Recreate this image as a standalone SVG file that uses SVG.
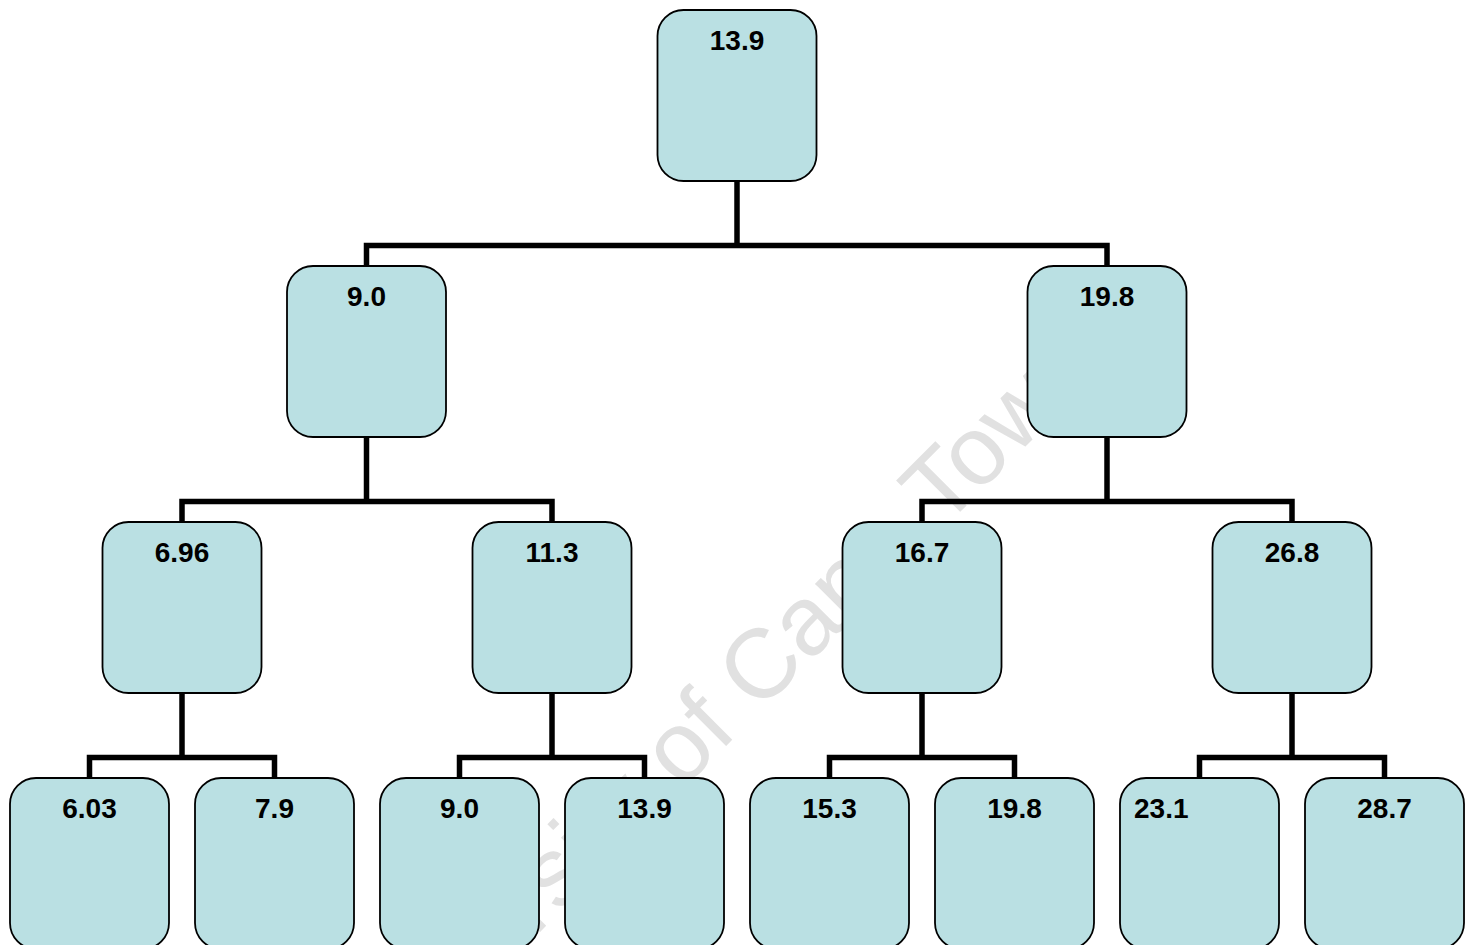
<svg xmlns="http://www.w3.org/2000/svg" width="1471" height="945" viewBox="0 0 1471 945">
  <style>
    .box { fill: #bae0e3; stroke: #000; stroke-width: 1.8; }
    .lbl { font-family: "Liberation Sans", Arial, sans-serif; font-weight: bold; font-size: 28px; fill: #000; text-anchor: middle; }
    .lbl.left { text-anchor: start; }
    .wire { fill: none; stroke: #000; stroke-width: 5.5; stroke-linejoin: miter; }
    .mark { font-family: "Liberation Sans", Arial, sans-serif; font-size: 98px; fill: #e1e1e1; }
  </style>
  <defs>
    <rect id="node" width="159" height="171" rx="26" ry="26"/>
  </defs>

  <rect width="1471" height="945" fill="#fff"/>

  <!-- background watermark -->
  <text class="mark" transform="translate(358,1114) rotate(-45)">University of Cape Town</text>

  <!-- connectors -->
  <g id="connectors" class="wire">
    <path d="M737,181 V245.5"/>
    <path d="M366.5,266 V245.5 H1107 V266"/>
    <path d="M366.5,437 V501.5"/>
    <path d="M182,522 V501.5 H552 V522"/>
    <path d="M1107,437 V501.5"/>
    <path d="M922,522 V501.5 H1292 V522"/>
    <path d="M182,693 V757.5"/>
    <path d="M89.5,778 V757.5 H274.5 V778"/>
    <path d="M552,693 V757.5"/>
    <path d="M459.5,778 V757.5 H644.5 V778"/>
    <path d="M922,693 V757.5"/>
    <path d="M829.5,778 V757.5 H1014.5 V778"/>
    <path d="M1292,693 V757.5"/>
    <path d="M1199.5,778 V757.5 H1384.5 V778"/>
  </g>

  <!-- level 1 -->
  <g id="n-root"><use href="#node" class="box" x="657.5" y="10"/><text class="lbl" x="737" y="50">13.9</text></g>

  <!-- level 2 -->
  <g id="n-l"><use href="#node" class="box" x="287" y="266"/><text class="lbl" x="366.5" y="306">9.0</text></g>
  <g id="n-r"><use href="#node" class="box" x="1027.5" y="266"/><text class="lbl" x="1107" y="306">19.8</text></g>

  <!-- level 3 -->
  <g id="n-ll"><use href="#node" class="box" x="102.5" y="522"/><text class="lbl" x="182" y="562">6.96</text></g>
  <g id="n-lr"><use href="#node" class="box" x="472.5" y="522"/><text class="lbl" x="552" y="562">11.3</text></g>
  <g id="n-rl"><use href="#node" class="box" x="842.5" y="522"/><text class="lbl" x="922" y="562">16.7</text></g>
  <g id="n-rr"><use href="#node" class="box" x="1212.5" y="522"/><text class="lbl" x="1292" y="562">26.8</text></g>

  <!-- level 4 -->
  <g id="n-lll"><use href="#node" class="box" x="10" y="778"/><text class="lbl" x="89.5" y="818">6.03</text></g>
  <g id="n-llr"><use href="#node" class="box" x="195" y="778"/><text class="lbl" x="274.5" y="818">7.9</text></g>
  <g id="n-lrl"><use href="#node" class="box" x="380" y="778"/><text class="lbl" x="459.5" y="818">9.0</text></g>
  <g id="n-lrr"><use href="#node" class="box" x="565" y="778"/><text class="lbl" x="644.5" y="818">13.9</text></g>
  <g id="n-rll"><use href="#node" class="box" x="750" y="778"/><text class="lbl" x="829.5" y="818">15.3</text></g>
  <g id="n-rlr"><use href="#node" class="box" x="935" y="778"/><text class="lbl" x="1014.5" y="818">19.8</text></g>
  <g id="n-rrl"><use href="#node" class="box" x="1120" y="778"/><text class="lbl left" x="1134" y="818">23.1</text></g>
  <g id="n-rrr"><use href="#node" class="box" x="1305" y="778"/><text class="lbl" x="1384.5" y="818">28.7</text></g>
</svg>
